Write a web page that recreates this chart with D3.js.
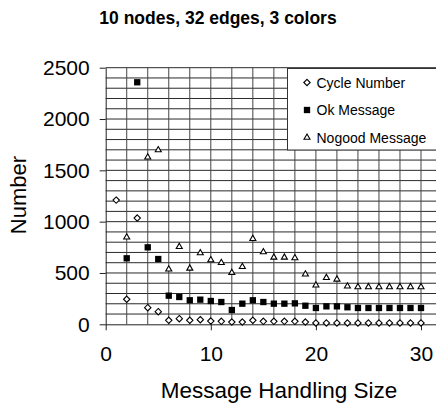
<!DOCTYPE html>
<html>
<head>
<meta charset="utf-8">
<script src="https://cdn.jsdelivr.net/npm/d3@7"></script>
<style>
  html, body { margin: 0; padding: 0; background: #fff; }
  svg { display: block; }
  svg text { font-family: "Liberation Sans", Arial, sans-serif; }
</style>
</head>
<body>
<svg id="chart" width="436" height="405"></svg>
<script>
// Message handling size on the x axis
const sizes = d3.range(1, 31);

// Counts per message handling size (null = not plotted)
const cycleNumber = [1210, 244, 1035, 162, 123, 39, 55, 39, 45, 32, 29, 22, 22, 39, 29,
                     29, 29, 29, 22, 13, 13, 13, 13, 13, 13, 13, 13, 13, 13, 13];
const okMessage = [null, 643, 2358, 750, 636, 279, 266, 234, 240, 227, 217, 139, 201, 234, 217,
                   201, 201, 204, 181, 159, 175, 175, 166, 159, 159, 159, 159, 159, 159, 159];
const nogoodMessage = [null, 848, null, 1627, 1698, 536, 756, 545, 695, 626, 600, 503, 561, 834, 704,
                       652, 652, 646, 488, 380, 454, 438, 370, 364, 364, 364, 364, 364, 364, 364];

const xTicks = [0, 10, 20, 30];
const yTicks = [0, 500, 1000, 1500, 2000, 2500];
const seriesNames = ["Cycle Number", "Ok Message", "Nogood Message"];

const FONT = "'Liberation Sans', Arial, sans-serif";
const svg = d3.select("#chart");
const W = 436;

const x = d3.scaleLinear().domain([0, 30]).range([105.7, 421]);
const y = d3.scaleLinear().domain([0, 2500]).range([324.3, 67.7]);

// Gridlines: horizontal every 100, vertical every 2
const grid = svg.append("g").attr("stroke-width", 1);
grid.selectAll("line.h").data(d3.range(100, 2501, 100)).join("line")
  .attr("stroke", "#2a2a2a")
  .attr("x1", x(0)).attr("x2", W)
  .attr("y1", d => y(d)).attr("y2", d => y(d));
grid.selectAll("line.v").data(d3.range(2, 31, 2)).join("line")
  .attr("stroke", "#444")
  .attr("x1", d => x(d)).attr("x2", d => x(d))
  .attr("y1", y(2500)).attr("y2", y(0));

// Axes
const yAxis = d3.axisLeft(y).tickValues(yTicks).tickFormat(d3.format("d"))
  .tickSize(6).tickSizeOuter(0).tickPadding(10);
const gy = svg.append("g").attr("transform", `translate(${x(0)},0)`).call(yAxis);
const xAxis = d3.axisBottom(x).tickValues(xTicks).tickFormat(d3.format("d"))
  .tickSize(6).tickSizeOuter(0).tickPadding(16);
const gx = svg.append("g").attr("transform", `translate(0,${y(0)})`).call(xAxis);
gx.select(".domain").attr("d", `M${x(0)},0.5H${W}`);
[gy, gx].forEach(g => {
  g.attr("font-family", FONT).attr("font-size", 21);
  g.selectAll("path, line").attr("stroke", "#222");
  g.selectAll("text").attr("fill", "#000");
});

// Markers
const pts = (vals) => sizes.map((s, i) => ({ s, v: vals[i] })).filter(d => d.v != null);
const diamond = d3.symbol().type(d3.symbolDiamond2).size(26);
const square = d3.symbol().type(d3.symbolSquare).size(40);
const tri = d3.symbol().type(d3.symbolTriangle2).size(26);

svg.append("g").selectAll("path").data(pts(cycleNumber)).join("path")
  .attr("d", diamond)
  .attr("transform", d => `translate(${x(d.s)},${y(d.v)})`)
  .attr("fill", "#fff").attr("stroke", "#000").attr("stroke-width", 1.1);
svg.append("g").selectAll("path").data(pts(okMessage)).join("path")
  .attr("d", square)
  .attr("transform", d => `translate(${x(d.s)},${y(d.v)})`)
  .attr("fill", "#000");
svg.append("g").selectAll("path").data(pts(nogoodMessage)).join("path")
  .attr("d", tri)
  .attr("transform", d => `translate(${x(d.s)},${y(d.v)})`)
  .attr("fill", "#fff").attr("stroke", "#000").attr("stroke-width", 1.1);

// Legend
const lg = svg.append("g");
lg.append("rect").attr("x", 287.5).attr("y", 68.5).attr("width", 160).attr("height", 81.5)
  .attr("fill", "#fff").attr("stroke", "#333");
const legendSymbols = [
  { sym: diamond, fill: "#fff", stroke: "#000" },
  { sym: square, fill: "#000", stroke: "none" },
  { sym: tri, fill: "#fff", stroke: "#000" }
];
seriesNames.forEach((name, i) => {
  const cy = 82.5 + i * 27.5;
  const ls = legendSymbols[i];
  lg.append("path").attr("d", ls.sym)
    .attr("transform", `translate(307,${cy})`)
    .attr("fill", ls.fill).attr("stroke", ls.stroke).attr("stroke-width", 1.1);
  lg.append("text").attr("x", 316.5).attr("y", cy + 5)
    .attr("font-family", FONT).attr("font-size", 14).text(name);
});

// Titles
svg.append("text").attr("x", 218).attr("y", 24).attr("text-anchor", "middle")
  .attr("font-family", FONT).attr("font-size", 17.5).attr("font-weight", "bold")
  .text("10 nodes, 32 edges, 3 colors");
svg.append("text").attr("x", 279).attr("y", 398).attr("text-anchor", "middle")
  .attr("font-family", FONT).attr("font-size", 22.5).text("Message Handling Size");
svg.append("text").attr("transform", "translate(26,195) rotate(-90)").attr("text-anchor", "middle")
  .attr("font-family", FONT).attr("font-size", 22).text("Number");
</script>
</body>
</html>
